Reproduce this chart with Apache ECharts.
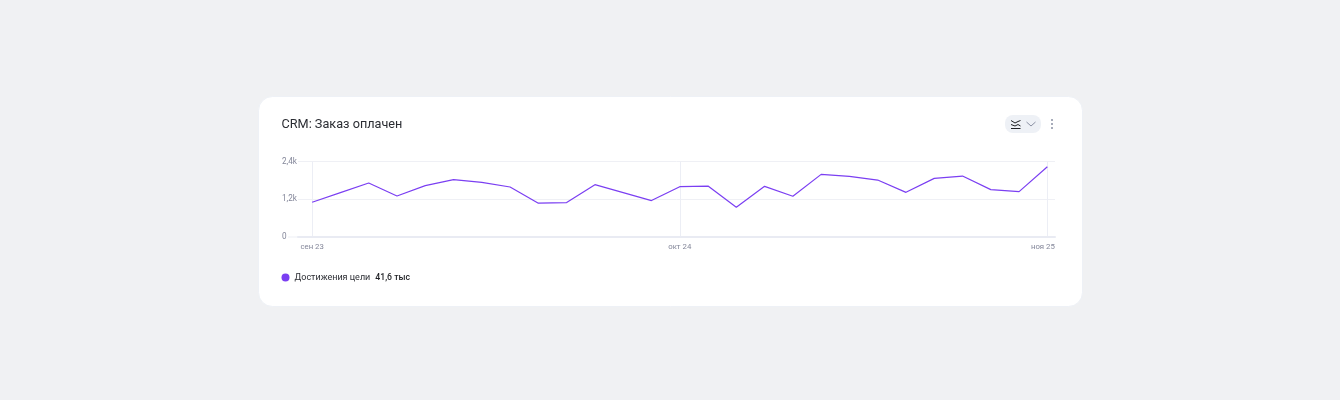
<!DOCTYPE html>
<html><head><meta charset="utf-8">
<style>html,body{margin:0;padding:0;background:#f0f1f3}#c{width:1340px;height:400px}</style>
<script src="https://cdn.jsdelivr.net/npm/echarts@6/dist/echarts.min.js"></script>
</head><body><div id="c"></div>
<script>
const titleText = 'CRM: Заказ оплачен';
const seriesName = 'Достижения цели';
const totalText = '41,6 тыс';
const yTickLabels = {0:'0',1200:'1,2k',2400:'2,4k'};
const xTickPositions = [0,13,26];
const xTickLabels = ['сен 23','окт 24','ноя 25'];
const periods = [0,1,2,3,4,5,6,7,8,9,10,11,12,13,14,15,16,17,18,19,20,21,22,23,24,25,26];
const goals = [1105,1410,1715,1305,1633,1822,1737,1590,1075,1095,1664,1410,1158,1600,1620,947,1610,1295,1990,1926,1810,1420,1863,1937,1506,1443,2233];
const font = 'Roboto, Inter, sans-serif';
const labelColor = '#84879a';
const chart = echarts.init(document.getElementById('c'), null, {renderer:'canvas'});
chart.setOption({
  animation:false,
  backgroundColor:'#f0f1f3',
  title:{text:titleText,left:281.5,top:116.5,padding:0,textStyle:{fontFamily:font,fontSize:12.7,fontWeight:400,color:'#2b2d33',lineHeight:16}},
  legend:{left:281.5,top:273,padding:0,itemWidth:8,itemHeight:8,icon:'circle',selectedMode:false,itemGap:0,
    formatter:n=>'{n|'+n+'}{v|'+totalText+'}',
    textStyle:{fontFamily:font,rich:{n:{fontFamily:font,fontSize:9,color:'#2b2d33',padding:[0,5,0,0]},v:{fontFamily:font,fontSize:8.7,fontWeight:500,color:'#1f2024'}}}},
  grid:{left:298,top:161.5,width:757,height:75.5,containLabel:false},
  xAxis:{type:'value',min:-0.5,max:26.27,
    axisLine:{show:true,onZero:false,lineStyle:{color:'#e9ebf3',width:2}},
    axisTick:{show:false,customValues:xTickPositions},
    splitLine:{show:true,lineStyle:{color:'#eceef5',width:1}},
    axisLabel:{customValues:xTickPositions,showMinLabel:true,showMaxLabel:true,margin:6,fontFamily:font,fontSize:7.8,color:labelColor,
      formatter:v=>{const i=xTickPositions.indexOf(v);return i===xTickPositions.length-1?'{last|'+xTickLabels[i]+'}':xTickLabels[i];},
      rich:{last:{fontFamily:font,fontSize:7.8,color:labelColor,padding:[0,9,0,0]}}}},
  yAxis:{type:'value',min:0,max:2400,interval:1200,
    axisLine:{show:false},axisTick:{show:false},
    splitLine:{show:true,lineStyle:{color:'#eff0f5',width:1}},
    axisLabel:{margin:16,align:'left',fontFamily:font,fontSize:8.2,color:labelColor,formatter:v=>yTickLabels[v]}},
  graphic:[
    {type:'rect',z:-10,shape:{x:258.5,y:96.5,width:824,height:210,r:14},style:{fill:'#fff',stroke:'#eef1f6',lineWidth:1}},
    {type:'rect',z:-5,shape:{x:1005,y:115,width:36,height:18,r:8},style:{fill:'#eef1f6'}},
    {type:'line',shape:{x1:288,y1:237,x2:298,y2:237},style:{stroke:'#f3f4f8',lineWidth:1.5}},
    {type:'polyline',shape:{points:[[1011,120.5],[1015,123],[1018,121.5],[1020.5,120.5]]},style:{stroke:'#1f2024',fill:null,lineWidth:1}},
    {type:'polyline',shape:{points:[[1011,124.5],[1015,126],[1018,124.5],[1020.5,126]]},style:{stroke:'#1f2024',fill:null,lineWidth:1}},
    {type:'line',shape:{x1:1011,y1:128.5,x2:1020.5,y2:128.5},style:{stroke:'#1f2024',lineWidth:1}},
    {type:'polyline',shape:{points:[[1026.5,122],[1031,126],[1035.5,122]]},style:{stroke:'#8a90a3',fill:null,lineWidth:1}},
    {type:'circle',shape:{cx:1052,cy:120,r:1},style:{fill:'#8a90a3'}},
    {type:'circle',shape:{cx:1052,cy:124,r:1},style:{fill:'#8a90a3'}},
    {type:'circle',shape:{cx:1052,cy:128,r:1},style:{fill:'#8a90a3'}}
  ],
  series:[{name:seriesName,type:'line',data:periods.map((p,i)=>[p,goals[i]]),showSymbol:false,smooth:false,
    lineStyle:{color:'#7b3ff2',width:1.2},itemStyle:{color:'#7b3ff2'}}]
});
</script></body></html>
